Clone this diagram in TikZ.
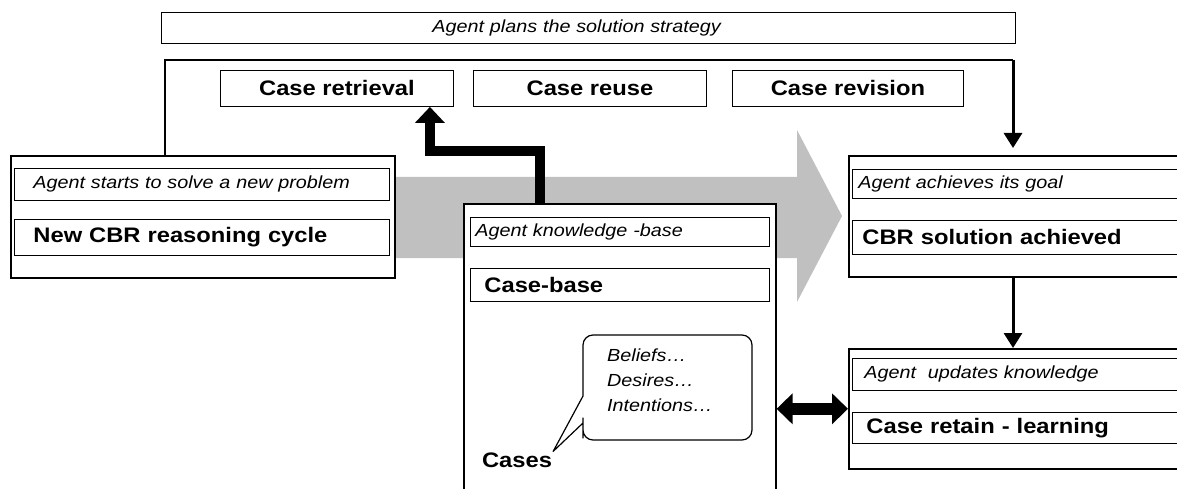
\documentclass[tikz,border=0pt]{standalone}
\usepackage{fontspec}
\setmainfont{Liberation Sans}[FakeStretch=1.13]
\usetikzlibrary{arrows.meta}

\definecolor{flowgrey}{RGB}{192,192,192}
\newcommand{\notefont}{\fontsize{17.5}{25}\selectfont\itshape}
\newcommand{\headfont}{\fontsize{21}{25}\selectfont\bfseries}

\tikzset{
  panel/.style={draw, fill=white, line width=1.6pt, anchor=north west, inner sep=0pt},
  slot/.style={draw, line width=0.9pt, anchor=north west, align=left, inner ysep=0pt},
  stage/.style={draw, line width=0.9pt, anchor=north west, minimum height=36, inner sep=0pt, font=\headfont},
  link/.style={line width=3pt, -{Triangle[width=18pt,length=15pt]}},
  heavy/.style={line width=10pt, -{Triangle[width=29pt,length=16pt]}},
}

\begin{document}
\begin{tikzpicture}[x=1pt, y=-1pt]
    \useasboundingbox (0,0) rectangle (1177,489);
    \clip (0,0) rectangle (1177,489);

    % Grey flow arrow in the back
    \fill[flowgrey] (394,177) -- (797,177) -- (797,130) -- (842,216) -- (797,302) -- (797,258) -- (394,258) -- cycle;

    % Planning strip and the three stages
    \node[slot, text width=312pt, inner xsep=271pt, minimum height=31, font=\notefont] (plan) at (161,12) {Agent plans the solution strategy};
    \node[stage, minimum width=233] (retr) at (220,70) {Case retrieval};
    \node[stage, minimum width=233] (reuse) at (473,70) {Case reuse};
    \node[stage, minimum width=231] (revis) at (732,70) {Case revision};

    % New problem
    \node[panel, minimum width=384, minimum height=122] (start) at (10,155) {};
    \node[slot, text width=337pt, inner xsep=19pt, minimum height=32, font=\notefont] (startnote) at (14,168) {Agent starts to solve a new problem};
    \node[slot, text width=337pt, inner xsep=19pt, minimum height=36, font=\headfont] (cycle) at (14,219) {New CBR reasoning cycle};

    % Knowledge base
    \node[panel, minimum width=312, minimum height=300] (kbase) at (463,203) {};
    \node[slot, text width=289pt, inner xsep=5pt, minimum height=29, font=\notefont] (kbnote) at (470,217) {Agent knowledge -base};
    \node[slot, text width=271pt, inner xsep=14pt, minimum height=33, font=\headfont] (cbase) at (470,268) {Case-base};
    \node[font=\headfont, inner sep=1pt] (cases) at (517,460) {Cases};

    % Thought bubble
    \draw[line width=1.2pt, line join=round, fill=white] (cases.north east) -- (583,396) -- (583,380)
        [rounded corners=10pt] -- (583,335) -- (752,335) -- (752,440) -- (583,440) -- (583,428)
        [sharp corners] -- (583,423) -- cycle;
    \node[anchor=north west, align=left, inner sep=0pt, font=\notefont] (bdi) at (607,349) {Beliefs…\\Desires…\\Intentions…};

    % Goal reached
    \node[panel, minimum width=360, minimum height=121] (goal) at (848,155) {};
    \node[slot, text width=336pt, inner xsep=6pt, minimum height=29, font=\notefont] (goalnote) at (852,169) {Agent achieves its goal};
    \node[slot, text width=328pt, inner xsep=10pt, minimum height=34, font=\headfont] (solved) at (852,220) {CBR solution achieved};

    % Learning
    \node[panel, minimum width=360, minimum height=120] (update) at (848,348) {};
    \node[slot, text width=324pt, inner xsep=12pt, minimum height=32, font=\notefont] (updnote) at (852,358) {Agent~ updates knowledge};
    \node[slot, text width=320pt, inner xsep=14pt, minimum height=31, font=\headfont] (retain) at (852,412) {Case retain - learning};

    % Connectors
    \coordinate (corner) at (1013,60);
    \draw[line width=2pt] ([xshift=155pt]start.north west) |- (corner);
    \draw[link] (corner) -- ([yshift=7pt]corner |- goal.north);
    \draw[link] ([xshift=165pt]goal.south west) -- ([xshift=165pt]update.north west);
    \draw[heavy] ([xshift=77pt]kbase.north west) -- ++(0,-52) -| ([xshift=-24pt]retr.south east);
    \draw[line width=12pt, {Triangle[width=30pt,length=16pt]}-{Triangle[width=30pt,length=16pt]}] (update.west -| kbase.east) -- (update.west);

\end{tikzpicture}
\end{document}
